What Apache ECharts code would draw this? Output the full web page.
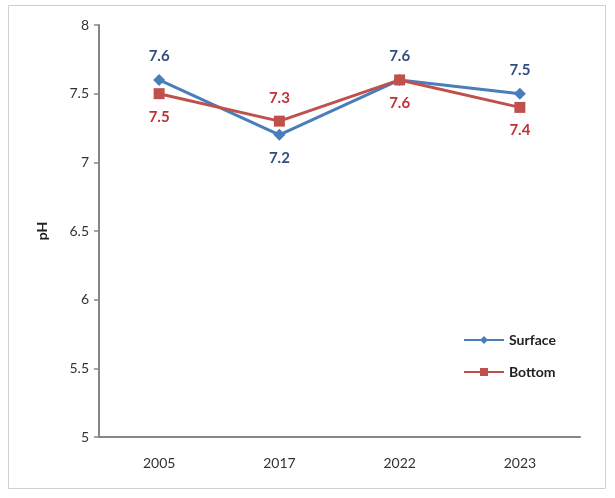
<!DOCTYPE html>
<html><head><meta charset="utf-8">
<script src="https://cdn.jsdelivr.net/npm/echarts@6/dist/echarts.min.js"></script>
<style>html,body{margin:0;padding:0;background:#fff}#c{width:615px;height:498px}</style>
</head><body><div id="c"></div>
<script>
const categories = ['2005', '2017', '2022', '2023'];
const surface = [7.6, 7.2, 7.6, 7.5];
const bottom = [7.5, 7.3, 7.6, 7.4];
const surfaceLabelPos = ['top', 'bottom', 'top', 'top'];
const bottomLabelPos = ['bottom', 'top', 'bottom', 'bottom'];

const chart = echarts.init(document.getElementById('c'));
const font = 'Lato, "Open Sans", sans-serif';
function mk(vals, pos) {
  return vals.map((v, i) => ({ value: v, label: { position: pos[i] } }));
}
chart.setOption({
  animation: false,
  textStyle: { fontFamily: font },
  graphic: [{ type: 'rect', shape: { x: 8.5, y: 5.5, width: 597, height: 483 }, style: { fill: 'none', stroke: '#d0d0d0', lineWidth: 1 } }],
  grid: { left: 99, right: 35, top: 25, bottom: 61 },
  legend: {
    orient: 'vertical', left: 458, top: 328, itemGap: 18, itemWidth: 40, itemHeight: 10,
    textStyle: { fontFamily: font, fontWeight: 'bold', fontSize: 14, color: '#222' },
    data: ['Surface', 'Bottom']
  },
  xAxis: {
    type: 'category', data: categories, boundaryGap: true,
    axisLine: { lineStyle: { color: '#868686', width: 2 } },
    axisTick: { inside: true, length: 5, lineStyle: { color: '#868686', width: 1.5 } },
    axisLabel: { fontFamily: font, fontSize: 14, color: '#333', margin: 19 }
  },
  yAxis: {
    type: 'value', min: 5, max: 8, interval: 0.5,
    name: 'pH', nameLocation: 'middle', nameGap: 50, nameRotate: 90,
    nameTextStyle: { fontFamily: font, fontWeight: 'bold', fontSize: 14, color: '#222' },
    splitLine: { show: false },
    axisLine: { show: true, lineStyle: { color: '#868686', width: 2 } },
    axisTick: { show: true, length: 5, lineStyle: { color: '#868686', width: 1.5 } },
    axisLabel: { fontFamily: font, fontSize: 14, color: '#333', margin: 10 }
  },
  series: [
    {
      name: 'Surface', type: 'line', data: mk(surface, surfaceLabelPos),
      symbol: 'diamond', symbolSize: 12,
      lineStyle: { color: '#4a7ebb', width: 3 }, itemStyle: { color: '#4a7ebb' },
      label: { show: true, distance: 10, fontFamily: font, fontWeight: 'bold', fontSize: 15, color: '#2e4f80' }
    },
    {
      name: 'Bottom', type: 'line', data: mk(bottom, bottomLabelPos),
      symbol: 'rect', symbolSize: 11,
      lineStyle: { color: '#c0504d', width: 3 }, itemStyle: { color: '#c0504d' },
      label: { show: true, distance: 10, fontFamily: font, fontWeight: 'bold', fontSize: 15, color: '#c0303a' }
    }
  ]
});
</script></body></html>
